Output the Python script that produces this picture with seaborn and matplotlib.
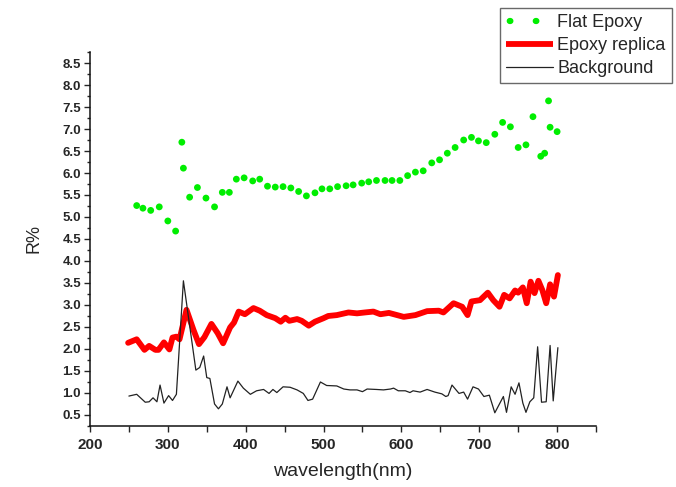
import numpy as np
import pandas as pd
import matplotlib
matplotlib.use("Agg")
import matplotlib.pyplot as plt
import seaborn as sns
from matplotlib.lines import Line2D
from matplotlib.ticker import MultipleLocator

# Flat Epoxy (green dots)
flat_wl = [260, 268, 278, 289, 300, 310, 318, 320, 328, 338, 349, 360, 370, 379,
           388, 398, 409, 418, 428, 438, 448, 458, 468, 478, 489, 498, 508, 518,
           529, 538, 549, 558, 568, 579, 588, 598, 608, 618, 628, 639, 649, 659,
           669, 680, 690, 699, 709, 720, 730, 740, 750, 760, 769, 779, 784, 789,
           791, 800]
flat_r = [5.26, 5.20, 5.15, 5.23, 4.91, 4.68, 6.70, 6.11, 5.45, 5.67, 5.43, 5.23,
          5.56, 5.56, 5.86, 5.89, 5.82, 5.86, 5.70, 5.68, 5.69, 5.66, 5.58, 5.48,
          5.55, 5.64, 5.64, 5.69, 5.71, 5.73, 5.77, 5.80, 5.83, 5.83, 5.83, 5.83,
          5.94, 6.02, 6.05, 6.23, 6.30, 6.45, 6.58, 6.75, 6.81, 6.73, 6.69, 6.88,
          7.15, 7.05, 6.58, 6.64, 7.28, 6.38, 6.45, 7.64, 7.04, 6.94]

# Epoxy replica (thick red line)
replica_wl = [249, 260, 270, 276, 284, 288, 295, 302, 306, 311, 315, 324, 333, 340,
              347, 356, 364, 371, 380, 385, 391, 399, 410, 418, 427, 438, 445, 451,
              456, 466, 472, 481, 489, 500, 506, 517, 532, 543, 553, 564, 573, 584,
              603, 618, 633, 648, 654, 667, 678, 685, 690, 701, 711, 718, 726, 732,
              739, 746, 750, 756, 761, 766, 771, 776, 781, 786, 791, 796, 801]
replica_r = [2.14, 2.22, 1.98, 2.07, 1.98, 1.98, 2.15, 1.99, 2.26, 2.28, 2.22, 2.89,
             2.43, 2.11, 2.27, 2.57, 2.36, 2.13, 2.49, 2.60, 2.85, 2.79, 2.93, 2.87,
             2.77, 2.70, 2.62, 2.71, 2.64, 2.68, 2.64, 2.53, 2.62, 2.70, 2.75, 2.77,
             2.83, 2.81, 2.83, 2.85, 2.79, 2.82, 2.73, 2.77, 2.86, 2.87, 2.83, 3.04,
             2.96, 2.77, 3.08, 3.11, 3.28, 3.11, 2.96, 3.23, 3.15, 3.33, 3.28, 3.40,
             3.04, 3.53, 3.27, 3.55, 3.34, 3.04, 3.47, 3.19, 3.68]

# Background (thin black line)
bg_wl = [250, 260, 271, 276, 281, 286, 290, 295, 301, 306, 311, 320, 336, 341, 346,
         350, 354, 360, 365, 370, 376, 380, 390, 397, 406, 414, 423, 430, 435, 440,
         448, 457, 466, 474, 480, 486, 496, 504, 517, 526, 534, 543, 550, 556, 568,
         577, 586, 590, 596, 605, 611, 615, 624, 633, 643, 652, 657, 660, 665, 674,
         680, 685, 692, 699, 706, 713, 720, 731, 735, 741, 746, 751, 756, 760, 765,
         770, 775, 780, 786, 791, 795, 801]
bg_r = [0.93, 0.97, 0.79, 0.80, 0.89, 0.80, 1.18, 0.77, 0.94, 0.83, 0.97, 3.55, 1.52,
        1.58, 1.84, 1.35, 1.33, 0.75, 0.64, 0.75, 1.14, 0.89, 1.27, 1.11, 0.97, 1.05,
        1.08, 0.99, 1.08, 1.01, 1.14, 1.13, 1.07, 0.99, 0.83, 0.86, 1.25, 1.17, 1.16,
        1.09, 1.07, 1.07, 1.03, 1.09, 1.08, 1.07, 1.09, 1.11, 1.05, 1.05, 1.01, 1.05,
        1.02, 1.08, 1.02, 0.98, 0.92, 0.94, 1.18, 0.99, 1.02, 0.86, 1.14, 1.09, 0.92,
        0.95, 0.55, 0.92, 0.56, 1.14, 0.97, 1.23, 0.77, 0.56, 0.80, 0.89, 2.05, 0.79,
        0.80, 2.08, 0.82, 2.03]

sns.set_style("ticks")
plt.rcParams["font.family"] = ["Liberation Sans", "DejaVu Sans"]

df_flat = pd.DataFrame({"wl": flat_wl, "R": flat_r})
df_rep = pd.DataFrame({"wl": replica_wl, "R": replica_r})
df_bg = pd.DataFrame({"wl": bg_wl, "R": bg_r})

fig = plt.figure(figsize=(6.76, 4.87), dpi=100)
ax = fig.add_axes([0.1331, 0.1253, 0.7486, 0.7679])

sns.scatterplot(data=df_flat, x="wl", y="R", ax=ax, color="#00ee00", s=24,
                edgecolor="none", legend=False, zorder=3)
sns.lineplot(data=df_rep, x="wl", y="R", ax=ax, color="#ff0000", linewidth=4.2,
             legend=False, zorder=2, solid_joinstyle="round", solid_capstyle="round")
sns.lineplot(data=df_bg, x="wl", y="R", ax=ax, color="#222222", linewidth=0.9,
             legend=False, zorder=2)

ax.set_xlim(200, 850)
ax.set_ylim(0.25, 8.75)
ax.xaxis.set_minor_locator(MultipleLocator(50))
ax.yaxis.set_minor_locator(MultipleLocator(0.25))
ax.set_xticks(np.arange(200, 801, 100))
ax.set_yticks(np.arange(0.5, 8.51, 0.5))
ax.set_yticklabels([f"{v:.1f}" for v in np.arange(0.5, 8.51, 0.5)])

ax.tick_params(axis="both", which="major", length=4.5, width=1, direction="out")
ax.tick_params(axis="y", which="minor", length=2.2, width=1, direction="out")
ax.tick_params(axis="x", which="minor", length=4.5, width=1, direction="out")
ax.tick_params(axis="x", labelsize=11, pad=4)
ax.tick_params(axis="y", labelsize=9.5, pad=2)
for lab in ax.get_xticklabels() + ax.get_yticklabels():
    lab.set_fontweight("bold")

sns.despine(ax=ax)
for sp in ("left", "bottom"):
    ax.spines[sp].set_linewidth(1.1)
    ax.spines[sp].set_color("#111111")

ax.set_xlabel("wavelength(nm)", fontsize=14, labelpad=8)
ax.set_ylabel("R%", fontsize=13, labelpad=14)

# legend proxies: dotted green, thick red, thin black
handles = [
    Line2D([], [], color="#00ee00", linewidth=4.5, linestyle=(3.56, (0.1, 4.06)),
           dash_capstyle="round"),
    Line2D([], [], color="#ff0000", linewidth=4.2, solid_capstyle="butt"),
    Line2D([], [], color="#222222", linewidth=0.9),
]
labels = ["Flat Epoxy", "Epoxy replica", "Background"]
leg = ax.legend(handles, labels, loc="upper right", bbox_to_anchor=(0.994, 0.984),
                bbox_transform=fig.transFigure, borderaxespad=0,
                fontsize=13, frameon=True, fancybox=False,
                handlelength=2.6, handletextpad=0.25, labelspacing=0.33,
                borderpad=0.35)
leg.get_frame().set_edgecolor("#444444")
leg.get_frame().set_linewidth(1.0)

fig.savefig("out.png", dpi=100)
